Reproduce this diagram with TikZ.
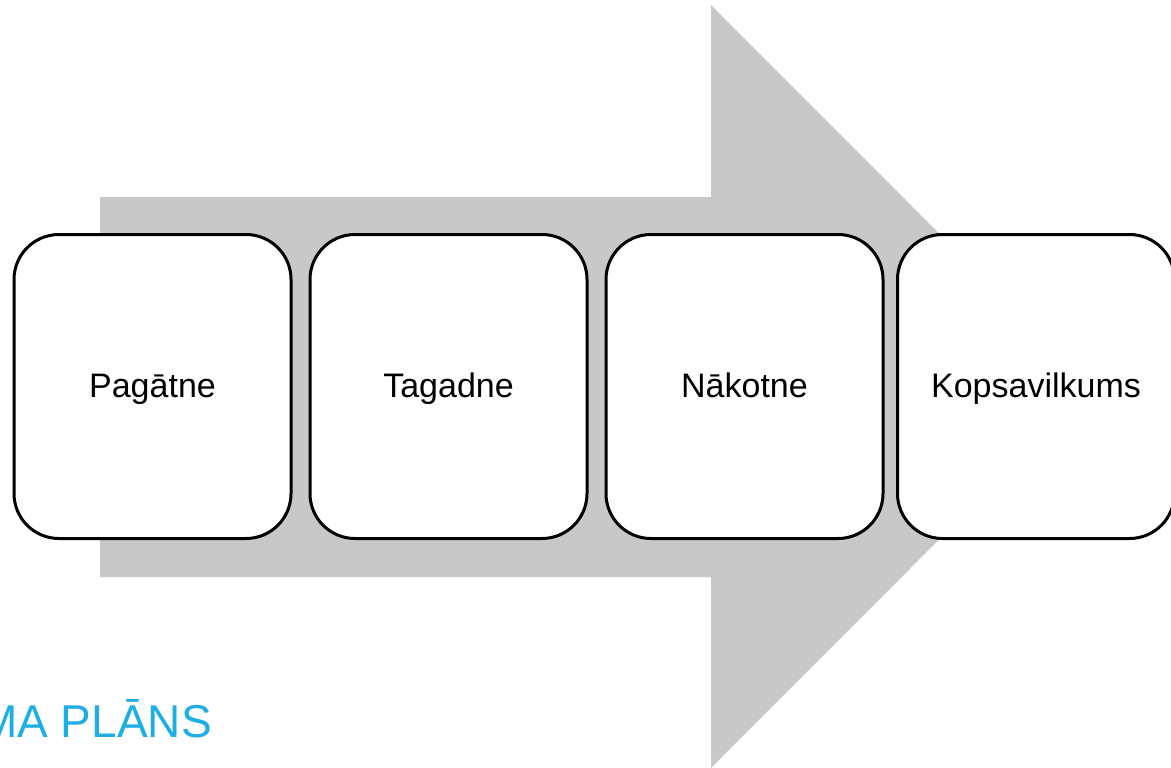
\documentclass[tikz,border=0pt]{standalone}
\usepackage{fontspec}
\setmainfont{Liberation Sans}
\definecolor{arrowgray}{RGB}{200,200,200}
\definecolor{titleblue}{RGB}{30,174,228}
\tikzset{
  stage/.style={draw=black, line width=3pt, fill=white, rounded corners=45pt,
    minimum width=277pt, minimum height=304pt, inner sep=0pt,
    text height=26pt, text depth=5pt,
    font=\fontsize{34}{39}\selectfont}
}
\begin{document}
\begin{tikzpicture}[x=1pt, y=-1pt]
	\useasboundingbox (0,0) rectangle (1171,768);
	% big background arrow
	\fill [arrowgray] (100,197) -- (711,197) -- (711,5) -- (1092,386.5)
		-- (711,768) -- (711,577) -- (100,577) -- cycle;
	\node [stage] (past) at (152.5,386.5) {Pagātne};
	\node [stage] (present) at (448.5,386.5) {Tagadne};
	\node [stage] (future) at (744.5,386.5) {Nākotne};
	\node [stage] (summary) at (1036,386.5) {Kopsavilkums};
	\node [anchor=base east, inner sep=0pt, text=titleblue,
		font=\fontsize{46}{52}\selectfont] (title) at (212,737) {MA PLĀNS};
\end{tikzpicture}
\end{document}
